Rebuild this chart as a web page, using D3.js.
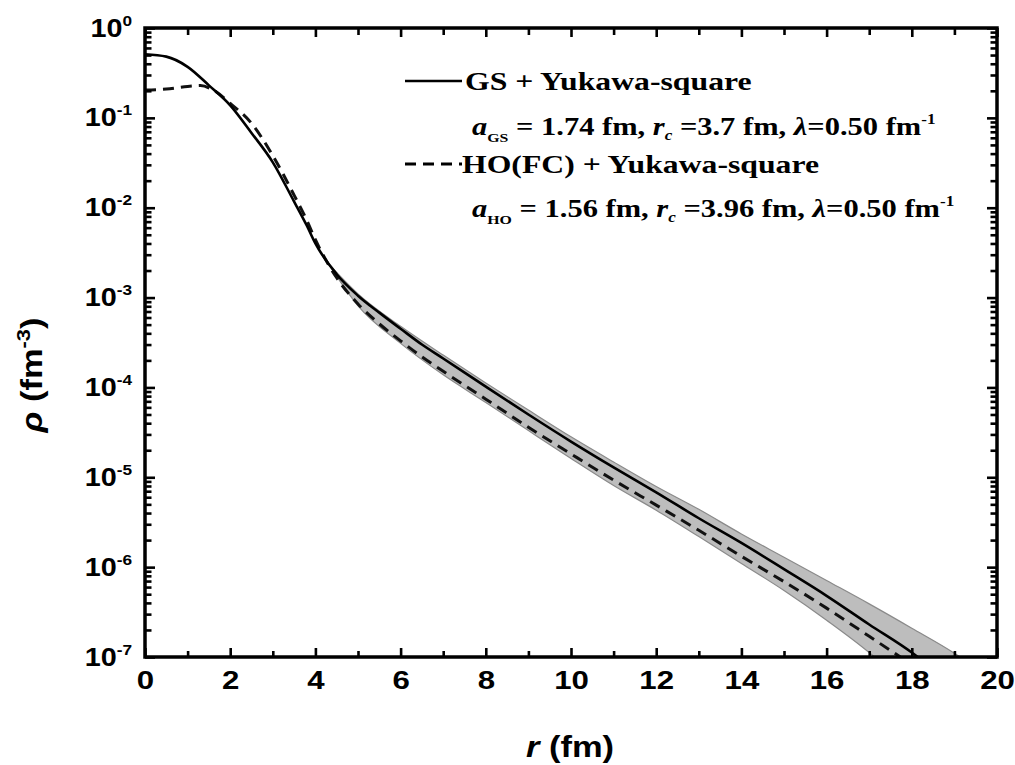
<!DOCTYPE html>
<html>
<head>
<meta charset="utf-8">
<script src="https://cdn.jsdelivr.net/npm/d3@7/dist/d3.min.js"></script>
<style>
  body { margin: 0; background: #fff; }
  svg { display: block; }
</style>
</head>
<body>
<script>
// GS + Yukawa-square (solid)
const rGS = [0, 0.5, 1, 1.5, 2, 2.5, 3, 3.5, 3.8, 4, 4.5, 5, 5.5, 6, 6.5, 7, 8, 9, 10, 11, 12, 13, 14, 15, 16, 17, 18, 18.2];
const rhoGS = [0.51, 0.48, 0.37, 0.23, 0.138, 0.068, 0.032, 0.0117, 0.0063, 0.0040, 1.82e-3, 1.05e-3, 6.8e-4, 4.5e-4, 3.0e-4,
               2.1e-4, 1.02e-4, 5.0e-5, 2.5e-5, 1.29e-5, 6.8e-6, 3.5e-6, 1.86e-6, 9.5e-7, 4.8e-7, 2.3e-7, 1.12e-7, 0.95e-7];

// HO(FC) + Yukawa-square (dashed)
const rHO = [0, 0.5, 1, 1.3, 1.6, 2, 2.5, 3, 3.5, 3.8, 4, 4.5, 5, 5.5, 6, 6.5, 7, 8, 9, 10, 11, 12, 13, 14, 15, 16, 17, 17.8];
const rhoHO = [0.204, 0.209, 0.224, 0.229, 0.204, 0.145, 0.087, 0.038, 0.0138, 0.0072, 0.0044, 1.66e-3, 8.5e-4, 5.1e-4, 3.3e-4, 2.19e-4,
               1.51e-4, 7.4e-5, 3.6e-5, 1.82e-5, 9.3e-6, 4.9e-6, 2.57e-6, 1.32e-6, 6.9e-7, 3.5e-7, 1.70e-7, 0.95e-7];

// shaded band (upper and lower edges)
const rBandHi = [4.3, 5, 6, 7, 8, 9, 10, 11, 12, 13, 14, 15, 16, 17, 18, 19, 19.2];
const rhoBandHi = [2.4e-3, 1.10e-3, 4.79e-4, 2.29e-4, 1.12e-4, 5.6e-5, 2.82e-5, 1.48e-5, 7.9e-6, 4.4e-6, 2.34e-6, 1.29e-6, 7.1e-7, 3.9e-7, 2.09e-7, 1.10e-7, 0.95e-7];
const rBandLo = [4.3, 5, 6, 7, 8, 9, 10, 11, 12, 13, 14, 15, 16, 17, 17.2];
const rhoBandLo = [2.4e-3, 8.1e-4, 3.09e-4, 1.38e-4, 6.8e-5, 3.31e-5, 1.62e-5, 8.1e-6, 4.3e-6, 2.19e-6, 1.10e-6, 5.5e-7, 2.57e-7, 1.12e-7, 0.93e-7];

const xMajor = [0, 2, 4, 6, 8, 10, 12, 14, 16, 18, 20];
const xMinor = [1, 3, 5, 7, 9, 11, 13, 15, 17, 19];
const yDecades = [1e-7, 1e-6, 1e-5, 1e-4, 1e-3, 1e-2, 1e-1, 1];

const width = 1015, height = 765;
const pLeft = 145, pRight = 997, pTop = 28, pBottom = 657;

const x = d3.scaleLinear().domain([0, 20]).range([pLeft, pRight]);
const y = d3.scaleLog().domain([1e-7, 1]).range([pBottom, pTop]);

const svg = d3.select("body").append("svg")
    .attr("width", width)
    .attr("height", height);

svg.append("clipPath").attr("id", "plot-clip")
   .append("rect")
   .attr("x", pLeft).attr("y", pTop)
   .attr("width", pRight - pLeft).attr("height", pBottom - pTop);

const plot = svg.append("g").attr("clip-path", "url(#plot-clip)");

const line = d3.line()
    .x(d => x(d[0]))
    .y(d => y(d[1]))
    .curve(d3.curveMonotoneX);

// band
const hi = rBandHi.map((r, i) => [r, rhoBandHi[i]]);
const lo = rBandLo.map((r, i) => [r, rhoBandLo[i]]);
const loPath = d3.line().x(d => x(d[0])).y(d => y(d[1])).curve(d3.curveMonotoneX)(lo.slice().reverse());
const bandPath = line(hi) + "L" + loPath.slice(1) + "Z";
plot.append("path")
    .attr("d", bandPath)
    .attr("fill", "#bdbdbd")
    .attr("stroke", "#8a8a8a")
    .attr("stroke-width", 1.2);

plot.append("path")
    .datum(rHO.map((r, i) => [r, rhoHO[i]]))
    .attr("d", line)
    .attr("fill", "none")
    .attr("stroke", "#111")
    .attr("stroke-width", 3)
    .attr("stroke-dasharray", "11,7");

plot.append("path")
    .datum(rGS.map((r, i) => [r, rhoGS[i]]))
    .attr("d", line)
    .attr("fill", "none")
    .attr("stroke", "#000")
    .attr("stroke-width", 2.6);

// axes
const yMinor = [];
for (let e = -7; e < 0; e++) for (let k = 2; k <= 9; k++) yMinor.push(k * Math.pow(10, e));

const styleAxis = g => {
    g.select(".domain").remove();
    g.selectAll(".tick line").attr("stroke", "#000").attr("stroke-width", 2.6);
};

svg.append("g")
   .attr("transform", `translate(0,${pBottom})`)
   .call(d3.axisBottom(x).tickValues(xMajor).tickSize(-9).tickPadding(14).tickFormat(d3.format("d")))
   .call(styleAxis)
   .call(g => g.selectAll(".tick text")
       .attr("fill", "#000")
       .attr("font-family", "Liberation Sans, Arial, sans-serif")
       .attr("font-weight", "bold")
       .attr("font-size", 26)
       .attr("transform", "scale(1.2,1)"));

svg.append("g")
   .attr("transform", `translate(0,${pBottom})`)
   .call(d3.axisBottom(x).tickValues(xMinor).tickSize(-6).tickFormat(""))
   .call(styleAxis);

svg.append("g")
   .attr("transform", `translate(0,${pTop})`)
   .call(d3.axisTop(x).tickValues(xMajor).tickSize(-9).tickFormat(""))
   .call(styleAxis);

svg.append("g")
   .attr("transform", `translate(0,${pTop})`)
   .call(d3.axisTop(x).tickValues(xMinor).tickSize(-7).tickFormat(""))
   .call(styleAxis);

const yAxisL = svg.append("g")
   .attr("transform", `translate(${pLeft},0)`)
   .call(d3.axisLeft(y).tickValues(yDecades).tickSize(-10).tickFormat(""))
   .call(styleAxis);

yAxisL.selectAll(".tick").each(function(d) {
    const exp = Math.round(Math.log10(d));
    const t = d3.select(this).append("text")
        .attr("transform", "translate(-13,8) scale(1.15,1)")
        .attr("text-anchor", "end")
        .attr("fill", "#000")
        .attr("font-family", "Liberation Sans, Arial, sans-serif")
        .attr("font-weight", "bold")
        .attr("font-size", 25);
    t.append("tspan").text("10");
    t.append("tspan").attr("dy", -11).attr("font-size", 15).text(exp === 0 ? "0" : "-" + Math.abs(exp));
});

svg.append("g")
   .attr("transform", `translate(${pLeft},0)`)
   .call(d3.axisLeft(y).tickValues(yMinor).tickSize(-6.5).tickFormat(""))
   .call(styleAxis);

svg.append("g")
   .attr("transform", `translate(${pRight},0)`)
   .call(d3.axisRight(y).tickValues(yDecades).tickSize(-10).tickFormat(""))
   .call(styleAxis);

svg.append("g")
   .attr("transform", `translate(${pRight},0)`)
   .call(d3.axisRight(y).tickValues(yMinor).tickSize(-6.5).tickFormat(""))
   .call(styleAxis);

// frame
svg.append("rect")
   .attr("x", pLeft).attr("y", pTop)
   .attr("width", pRight - pLeft).attr("height", pBottom - pTop)
   .attr("fill", "none")
   .attr("stroke", "#000")
   .attr("stroke-width", 3.5);

// axis titles
const xt = svg.append("text")
   .attr("transform", `translate(570,757) scale(1.15,1)`)
   .attr("text-anchor", "middle")
   .attr("font-family", "Liberation Sans, Arial, sans-serif")
   .attr("font-weight", "bold")
   .attr("font-size", 30);
xt.append("tspan").attr("font-style", "italic").text("r");
xt.append("tspan").text(" (fm)");

const yt = svg.append("text")
   .attr("transform", `translate(42,375) rotate(-90) scale(1.15,1)`)
   .attr("text-anchor", "middle")
   .attr("font-family", "Liberation Sans, Arial, sans-serif")
   .attr("font-weight", "bold")
   .attr("font-size", 30);
yt.append("tspan").attr("font-style", "italic").text("ρ");
yt.append("tspan").text(" (fm");
yt.append("tspan").attr("dy", -12).attr("font-size", 19).text("-3");
yt.append("tspan").attr("dy", 12).text(")");

// legend
const legendFont = "Liberation Serif, Times New Roman, serif";
const legend = svg.append("g");

legend.append("line")
   .attr("x1", 405).attr("x2", 462).attr("y1", 81).attr("y2", 81)
   .attr("stroke", "#000").attr("stroke-width", 2.6);
legend.append("line")
   .attr("x1", 405).attr("x2", 462).attr("y1", 164).attr("y2", 164)
   .attr("stroke", "#000").attr("stroke-width", 3)
   .attr("stroke-dasharray", "11,7");

const legText = (tx, ty, size) => legend.append("text")
   .attr("transform", `translate(${tx},${ty}) scale(1.22,1)`)
   .attr("font-family", legendFont)
   .attr("font-weight", "bold")
   .attr("font-size", size)
   .attr("fill", "#000");

legText(465, 90, 26).text("GS + Yukawa-square");
legText(462, 173, 26).text("HO(FC) + Yukawa-square");

const paramLine = (ty, sub, a, rc) => {
    const t = legText(472, ty, 25);
    t.append("tspan").attr("font-style", "italic").text("a");
    t.append("tspan").attr("font-size", 13).attr("dy", 7).text(sub);
    t.append("tspan").attr("dy", -7).text(" = " + a + " fm, ");
    t.append("tspan").attr("font-style", "italic").text("r");
    t.append("tspan").attr("font-style", "italic").attr("font-size", 14).attr("dy", 5).text("c");
    t.append("tspan").attr("dy", -5).text(" =" + rc + " fm, ");
    t.append("tspan").attr("font-style", "italic").text("λ");
    t.append("tspan").text("=0.50 fm");
    t.append("tspan").attr("font-size", 14).attr("dy", -11).text("-1");
};
paramLine(135, "GS", "1.74", "3.7");
paramLine(217, "HO", "1.56", "3.96");
</script>
</body>
</html>
